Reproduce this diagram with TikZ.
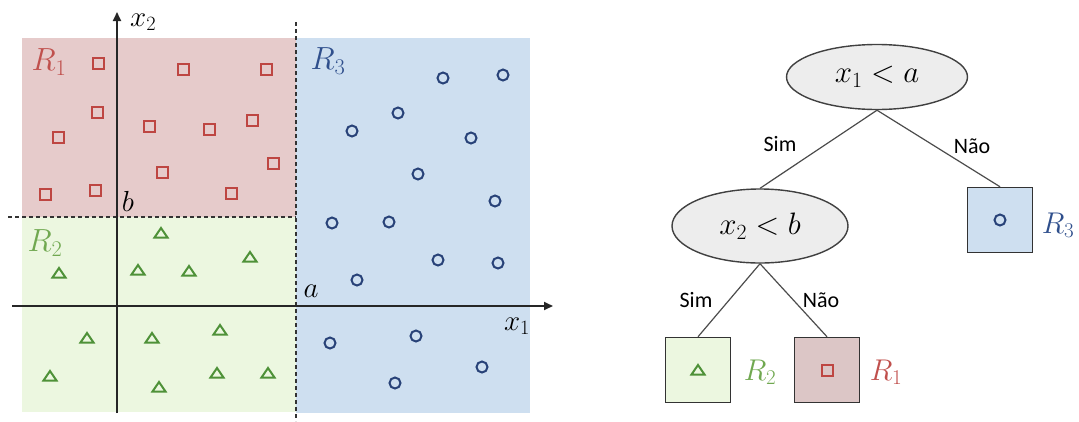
\RequirePackage{fix-cm}
\documentclass[tikz,border=0pt]{standalone}
\usepackage{fontspec}
\newfontfamily\labfont{Carlito}
\usetikzlibrary{shapes.geometric,arrows.meta}
\definecolor{redfill}{RGB}{230,203,203}
\definecolor{greenfill}{RGB}{236,247,224}
\definecolor{bluefill}{RGB}{206,223,240}
\definecolor{redbox}{RGB}{220,198,198}
\definecolor{redmk}{RGB}{190,70,66}
\definecolor{greenmk}{RGB}{78,145,56}
\definecolor{bluemk}{RGB}{40,66,120}
\definecolor{rlab}{RGB}{192,80,77}
\definecolor{glab}{RGB}{112,168,80}
\definecolor{blab}{RGB}{47,79,140}
\newcommand\mksq[1]{\draw[redmk,line width=2pt] (#1) ++(-5.5,-5.5) rectangle ++(11,11);}
\newcommand\mkci[1]{\draw[bluemk,line width=2pt] (#1) circle[radius=5.5pt];}
\newcommand\mktr[1]{\draw[greenmk,line width=2pt,line join=miter] (#1) ++(-6.5,4.5) -- ++(13,0) -- ++(-6.5,-9.5) -- cycle;}
\begin{document}
\begin{tikzpicture}[x=1pt,y=-1pt,
  axis/.style={line width=1.8pt,draw=black!85,-{Triangle[length=9pt,width=8pt]}},
  divline/.style={line width=1.4pt,draw=black!80,dash pattern=on 4pt off 3pt},
  axlab/.style={font=\fontsize{29}{33}\selectfont, inner sep=0},
  biglab/.style={font=\fontsize{32}{36}\selectfont, inner sep=0},
  decision/.style={ellipse, draw=black!75, fill=black!7, line width=1.4pt, inner sep=0, font=\fontsize{31}{35}\selectfont},
  leafbox/.style={rectangle, draw=black!80, line width=1.5pt, minimum size=65pt, inner sep=0},
  edge/.style={draw=black!70, line width=1.2pt},
  edgelab/.style={font=\labfont\fontsize{22}{25}\selectfont, inner sep=0},
  leaflab/.style={font=\fontsize{30}{34}\selectfont, inner sep=0}]
\useasboundingbox (0,0) rectangle (1079,421);
% regions
\fill[redfill] (22,38) rectangle (296,217);
\fill[greenfill] (22,217) rectangle (296,412);
\fill[bluefill] (296,38) rectangle (530,413);
% markers
\foreach \x/\y in {98/63,183/69,266/69,97/112,149/126,209/129,252/120,58/137,162/172,273/163,45/194,95/190,231/193} {\mksq{\x,\y}}
\foreach \x/\y in {443/78,503/75,398/113,352/131,471/138,418/174,495/201,332/223,389/222,438/260,498/263,357/280,330/343,416/336,482/367,395/383} {\mkci{\x,\y}}
\foreach \x/\y in {161/233,250/257,59/273,138/270,189/271,87/338,152/338,220/330,50/376,159/387,217/373,268/373} {\mktr{\x,\y}}
% split lines
\draw[divline] (296,22) -- (296,421);
\draw[divline] (8,217) -- (296,217);
% axes
\draw[axis] (12,306) -- (553,306);
\draw[axis] (117,413) -- (117,12);
% labels
\node[axlab, anchor=west] (x2lab) at (130,22) {$x_2$};
\node[axlab] (x1lab) at (517,326) {$x_1$};
\node[axlab] (alab) at (311,291) {$a$};
\node[axlab] (blab) at (128,201) {$b$};
\node[biglab, text=rlab] (r1lab) at (49,62) {$R_1$};
\node[biglab, text=glab] (r2lab) at (45,243) {$R_2$};
\node[biglab, text=blab] (r3lab) at (328,61) {$R_3$};
% tree
\node[decision, minimum width=181pt, minimum height=65pt] (root) at (877,77) {$x_1 < a$};
\node[decision, minimum width=176pt, minimum height=74pt] (n2) at (760,226) {$x_2 < b$};
\node[leafbox, fill=bluefill] (leaf3) at (1000,220) {};
\node[leafbox, fill=greenfill] (leaf2) at (698,370) {};
\node[leafbox, fill=redbox] (leaf1) at (827,370) {};
\mkci{leaf3.center}
\mktr{leaf2.center}
\mksq{leaf1.center}
\draw[edge] (root.south) -- (n2.north);
\draw[edge] (root.south) -- (leaf3.north);
\draw[edge] (n2.south) -- (leaf2.north);
\draw[edge] (n2.south) -- (leaf1.north);
\node[edgelab] (s1) at (780,144) {Sim};
\node[edgelab] (n1) at (972,146) {Não};
\node[edgelab] (s2) at (696,300) {Sim};
\node[edgelab] (n3) at (821,300) {Não};
\node[leaflab, text=blab] (t3) at (1058,225) {$R_3$};
\node[leaflab, text=glab] (t2) at (760,372) {$R_2$};
\node[leaflab, text=rlab] (t1) at (886,372) {$R_1$};
\end{tikzpicture}
\end{document}
